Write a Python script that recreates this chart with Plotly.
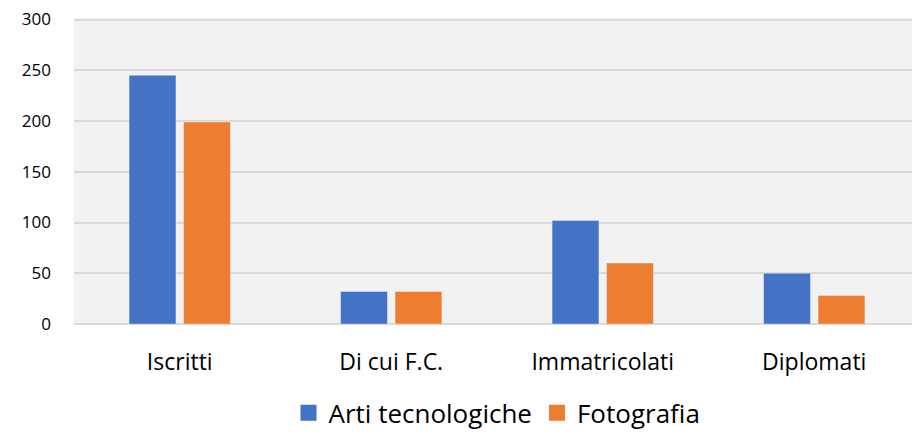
import plotly.graph_objects as go

categories = ["Iscritti", "Di cui F.C.", "Immatricolati", "Diplomati"]
arti_tecnologiche = [245, 32, 102, 50]
fotografia = [199, 32, 60, 28]
y_ticks = [0, 50, 100, 150, 200, 250, 300]

FONT = "'Open Sans', Lato, sans-serif"
BLUE = "#4472C4"
ORANGE = "#ED7D31"

fig = go.Figure()
fig.add_trace(go.Bar(x=categories, y=arti_tecnologiche, name="Arti tecnologiche", showlegend=False,
                     marker=dict(color=BLUE, line=dict(color="rgba(255,255,255,0.35)", width=1))))
fig.add_trace(go.Bar(x=categories, y=fotografia, name="Fotografia", showlegend=False,
                     marker=dict(color=ORANGE, line=dict(color="rgba(255,255,255,0.35)", width=1))))
# legend entries with bigger square swatches
for name, color in [("Arti tecnologiche", BLUE), ("Fotografia", ORANGE)]:
    fig.add_trace(go.Scatter(x=[None], y=[None], mode="markers", name=name,
                             marker=dict(symbol="square", size=16, color=color)))

# the page body has an 8px margin, so the figure is 8px smaller each way
fig.update_layout(
    width=912, height=424,
    margin=dict(l=66, r=0, t=10, b=108),
    paper_bgcolor="white", plot_bgcolor="#F2F2F2",
    font=dict(family=FONT, color="#000000"),
    barmode="group", bargap=0.485, bargroupgap=0.14,
    legend=dict(orientation="h", x=0.5, xanchor="center", y=0.045, yanchor="middle",
                yref="container", font=dict(size=26), traceorder="normal"),
)
fig.update_xaxes(showgrid=False, tickfont=dict(size=23), ticks="", ticklabelstandoff=22,
                 showline=False, zeroline=False, automargin=False)
fig.update_yaxes(range=[0, 301.5], tickvals=y_ticks, showgrid=True, gridcolor="#D9D9D9", gridwidth=2,
                 zeroline=True, zerolinecolor="#D9D9D9", zerolinewidth=2, automargin=False,
                 tickfont=dict(size=17), ticklabelstandoff=22, ticklabeloverflow="allow",
                 showline=False)

fig.write_html("out.html")
